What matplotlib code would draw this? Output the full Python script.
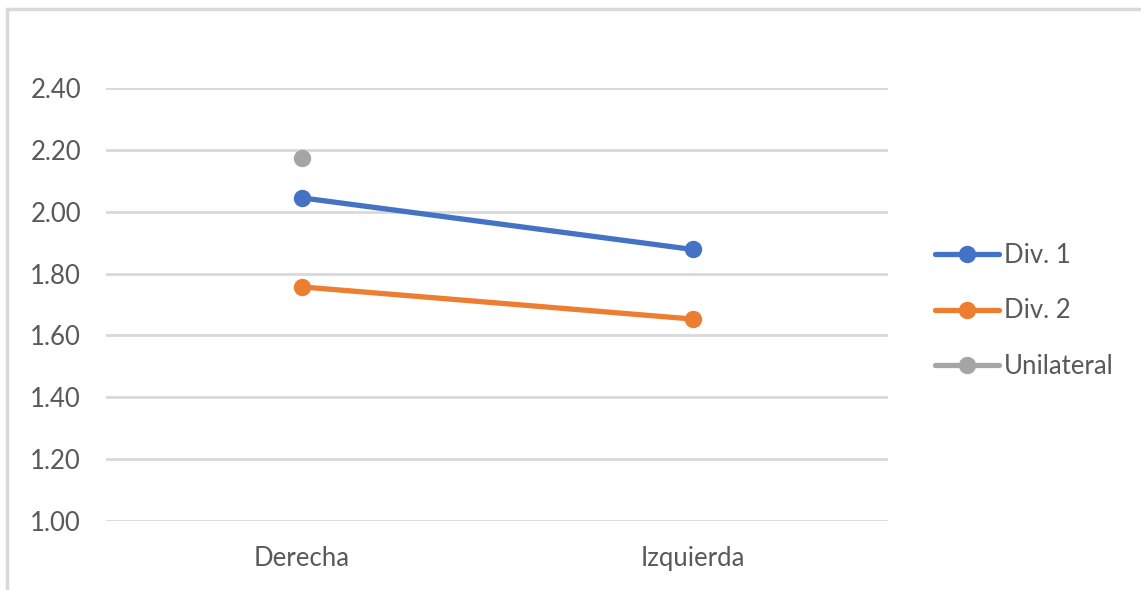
import numpy as np
import matplotlib.pyplot as plt
from matplotlib.patches import Rectangle

categories = ['Derecha', 'Izquierda']
div1 = [2.045, 1.878]
div2 = [1.757, 1.653]
unilateral = [2.174, np.nan]
series_names = ['Div. 1', 'Div. 2', 'Unilateral']
y_ticks = [1.00, 1.20, 1.40, 1.60, 1.80, 2.00, 2.20, 2.40]


def main():
    plt.rcParams['font.family'] = ['Lato', 'DejaVu Sans']
    fig = plt.figure(figsize=(11.41, 5.90), dpi=100)
    ax = fig.add_axes([106 / 1141, 69 / 590, 782 / 1141, 433 / 590])

    colors = ['#4472C4', '#ED7D31', '#A5A5A5']
    x = np.arange(len(categories))
    for vals, name, c in zip([div1, div2, unilateral], series_names, colors):
        ax.plot(x, vals, color=c, lw=3.8, marker='o', ms=11.5,
                solid_capstyle='round', label=name, zorder=3)

    ax.set_xlim(-0.5, 1.5)
    ax.set_ylim(1.0, 2.4)
    ax.set_yticks(y_ticks)
    ax.set_yticklabels(['%.2f' % v for v in y_ticks])
    ax.set_xticks(x)
    ax.set_xticklabels(categories)
    ax.tick_params(length=0, labelsize=18.5, colors='#595959')
    ax.tick_params(axis='y', pad=18)
    ax.tick_params(axis='x', pad=18)
    ax.grid(axis='y', color='#D9D9D9', lw=2)
    ax.set_axisbelow(True)
    for s in ax.spines.values():
        s.set_visible(False)

    leg = ax.legend(loc='center left', bbox_to_anchor=(1.06, 0.485),
                    frameon=False, fontsize=18.5, labelspacing=1.2,
                    handlelength=2.5, handletextpad=0.2, borderaxespad=0,
                    borderpad=0)
    for t in leg.get_texts():
        t.set_color('#595959')

    # outer chart border (cut off at right and bottom)
    fig.patches.append(Rectangle((7 / 1141, -0.1), 1.2, (590 - 9) / 590 + 0.1,
                                 transform=fig.transFigure, fill=False,
                                 edgecolor='#D9D9D9', lw=2.5))

    fig.savefig('out.png', dpi=100)


if __name__ == '__main__':
    main()
